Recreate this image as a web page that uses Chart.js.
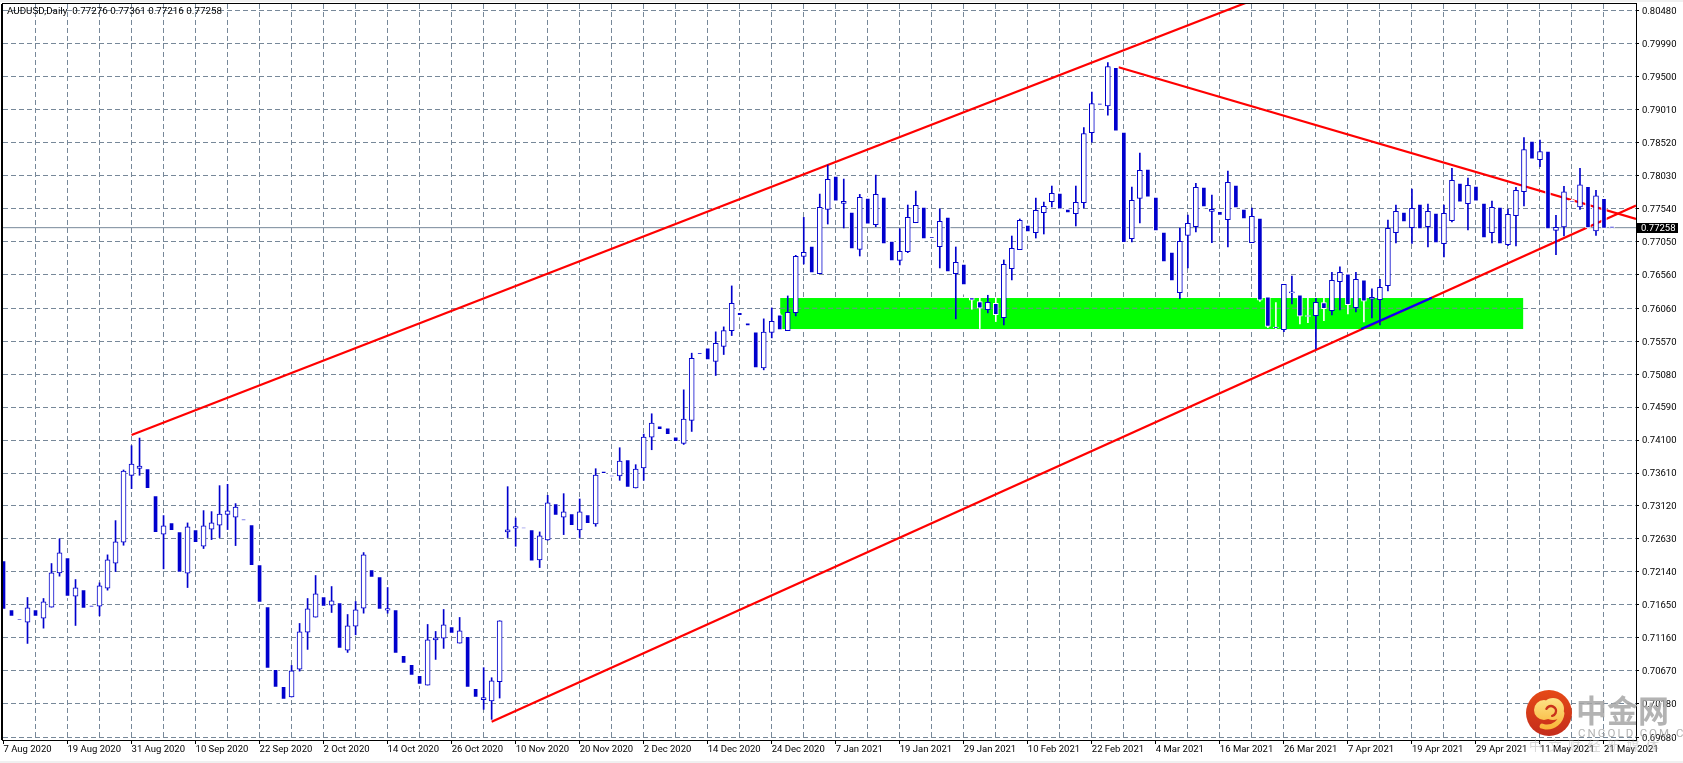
<!DOCTYPE html>
<html>
<head>
<meta charset="utf-8">
<title>AUDUSD Daily</title>
<script src="https://cdn.jsdelivr.net/npm/chart.js@4/dist/chart.umd.min.js"></script>
<style>
html, body { margin: 0; padding: 0; background: #fff; }
canvas { display: block; }
</style>
</head>
<body>
<canvas id="chart" width="1683" height="763"></canvas>
<script>
// daily candles, one entry per bar
var opens = [
.72308,.71581,.71447,.71393,.71581,.71452,.71615,.72125,.72353,.71779,
.71878,.71640,.71630,.71898,.72269,.72581,.73576,.73680,.73675,.73274,
.72699,.72873,.72739,.72120,.72769,.72521,.72774,.72833,.72996,.72952,
.72917,.72843,.72249,.71625,.70690,.70437,.70279,.70695,.71244,.71467,
.71774,.71645,.71685,.70977,.71333,.71600,.72175,.72071,.71571,.71581,
.70898,.70764,.70601,.70457,.71130,.71155,.71328,.71081,.71180,.70408,
.70239,.70220,.70507,.72734,.72788,.72798,.72769,.72318,.72615,.73155,
.72952,.73006,.72764,.72991,.72853,.73640,.73571,.73566,.73808,.73387,
.73684,.74144,.74313,.74283,.74149,.74050,.74392,.75400,.75471,.75268,
.75491,.75728,.76000,.75842,.75709,.75174,.75699,.75961,.75728,.75996,
.76832,.76986,.76575,.77530,.78025,.77619,.77491,.76936,.77698,.77302,
.77713,.77060,.76773,.76902,.77332,.77565,.77119,.76976,.77416,.76575,
.76718,.76218,.76159,.76040,.76134,.75921,.76649,.76931,.77298,.77184,
.77481,.77644,.77773,.77535,.77466,.77629,.78669,.79109,.79070,.79644,
.78679,.77095,.77694,.78129,.77713,.77194,.76897,.76293,.77144,.77273,
.77862,.77500,.77500,.77377,.77892,.77535,.77035,.77401,.76228,.75780,
.75743,.76288,.76258,.75950,.75951,.76144,.76025,.76456,.76570,.76070,
.76481,.76194,.76189,.76397,.77184,.77491,.77258,.77609,.77273,.77476,
.77020,.77362,.77921,.77614,.77877,.77624,.77184,.77565,.77005,.77436,
.77793,.78545,.78268,.78396,.77218,.77268,.77664,.77565,.77872,.77208,
.77693,.77276];
var highs = [
.72330,.71600,.71465,.71759,.71600,.71744,.72264,.72630,.72370,.72026,
.72170,.71660,.71977,.72393,.72902,.73655,.74016,.74130,.73690,.73290,
.72977,.72890,.72755,.72868,.72785,.73051,.73036,.73422,.73442,.73155,
.72935,.73130,.72270,.71640,.70705,.70455,.70749,.71373,.71744,.72086,
.71790,.71922,.71700,.71506,.71700,.72427,.72190,.72085,.71907,.71600,
.70915,.70780,.70620,.71358,.71254,.71581,.71345,.71462,.71200,.70425,
.70715,.70566,.71413,.73407,.72942,.72815,.72785,.72734,.73278,.73170,
.73303,.73020,.73224,.73115,.73674,.73655,.73620,.73986,.73825,.73734,
.74189,.74491,.74330,.74300,.74165,.74847,.75392,.75420,.75490,.75709,
.75783,.76392,.76020,.75860,.75725,.75902,.76065,.75980,.76243,.76847,
.77411,.77005,.77758,.78189,.78040,.77981,.77510,.77753,.77715,.78040,
.77730,.77075,.77243,.77595,.77802,.77585,.77135,.77535,.77430,.76971,
.76735,.76240,.76213,.76253,.76213,.76778,.77134,.77387,.77315,.77698,
.77639,.77877,.77790,.77555,.77877,.78748,.79273,.79125,.79713,.79660,
.78695,.77862,.78367,.78145,.77730,.77210,.76915,.77253,.77446,.77916,
.77880,.77743,.77520,.78099,.77910,.77555,.77550,.77415,.76245,.76144,
.76416,.76540,.76275,.76218,.76209,.76213,.76595,.76674,.76585,.76595,
.76495,.76347,.76491,.77372,.77595,.77505,.77832,.77625,.77609,.77490,
.77595,.78139,.77935,.77995,.77890,.77640,.77654,.77580,.77535,.77857,
.78599,.78560,.78560,.78410,.77441,.77872,.77680,.78139,.77890,.77812,
.77710,.77361];
var lows = [
.71560,.71460,.71400,.71076,.71460,.71303,.71615,.72076,.71755,.71343,
.71580,.71600,.71487,.71868,.72145,.72536,.73378,.73576,.73360,.72705,
.72185,.72740,.72115,.71907,.72480,.72487,.72620,.72650,.72769,.72531,
.72890,.72215,.71665,.70690,.70170,.70225,.70279,.70665,.70987,.71467,
.71605,.71536,.70985,.70942,.71204,.71526,.72040,.71565,.71526,.70910,
.70760,.70585,.70450,.70457,.70838,.71002,.71205,.71081,.70405,.70255,
.70096,.69947,.70264,.72650,.72521,.72770,.72280,.72204,.72610,.72965,
.72694,.72810,.72650,.72840,.72818,.73585,.73545,.73501,.73380,.73387,
.73501,.73956,.74090,.74160,.74060,.74035,.74228,.75365,.75275,.75060,
.75372,.75654,.75930,.75780,.75155,.75144,.75619,.75550,.75728,.75946,
.76718,.76565,.76575,.77312,.77635,.77253,.76925,.76837,.77295,.77273,
.77000,.76745,.76704,.76887,.77332,.77040,.77095,.76659,.76585,.75902,
.76270,.76045,.75758,.75991,.75862,.75812,.76481,.76931,.77175,.77104,
.77164,.77565,.77515,.77460,.77283,.77550,.78530,.79065,.78931,.78675,
.77020,.77045,.77327,.77695,.77190,.76730,.76450,.76204,.76659,.77194,
.77545,.77035,.77420,.76971,.77530,.77370,.77035,.76160,.75770,.75750,
.75713,.76124,.75827,.75847,.75456,.75877,.75961,.76035,.75976,.76006,
.75857,.75916,.75812,.76317,.77030,.77325,.77025,.77220,.76971,.77015,
.76822,.77342,.77620,.77223,.77635,.77085,.77030,.77000,.76991,.76986,
.77580,.78260,.78164,.77220,.76857,.77134,.77620,.77530,.77235,.77144,
.77230,.77216];
var closes = [
.71581,.71477,.71417,.71605,.71477,.71695,.72125,.72422,.71774,.71902,
.71596,.71620,.71932,.72318,.72586,.73640,.73744,.73714,.73378,.72724,
.72823,.72754,.72130,.72808,.72576,.72823,.72868,.73001,.73046,.73105,
.72907,.72234,.71685,.70705,.70422,.70244,.70670,.71249,.71590,.71813,
.71625,.71709,.71002,.71338,.71576,.72393,.72056,.71581,.71596,.70927,
.70779,.70601,.70467,.71130,.71160,.71353,.71224,.71264,.70422,.70274,
.70269,.70521,.71413,.72764,.72813,.72788,.72298,.72675,.73165,.72981,
.73031,.72828,.73031,.72858,.73580,.73600,.73561,.73788,.73397,.73670,
.74144,.74352,.74253,.74179,.74075,.74412,.75317,.75380,.75293,.75540,
.75728,.76134,.75950,.75798,.75174,.75704,.75867,.75738,.76001,.76832,
.76892,.76585,.77560,.77976,.77654,.77649,.76941,.77708,.77312,.77753,
.77015,.76763,.76906,.77411,.77590,.77090,.77109,.77352,.76600,.76743,
.76407,.76179,.76060,.76149,.75966,.76713,.76951,.77367,.77194,.77515,
.77575,.77768,.77535,.77476,.77634,.78659,.79104,.79080,.79654,.78693,
.77035,.77664,.78109,.77713,.77208,.76748,.76466,.77055,.77322,.77857,
.77565,.77530,.77440,.77931,.77550,.77387,.77426,.76179,.75788,.75770,
.76416,.76303,.75941,.75940,.76149,.76055,.76476,.76595,.76114,.76491,
.76164,.76223,.76372,.77248,.77500,.77342,.77545,.77238,.77500,.77030,
.77471,.77961,.77639,.77887,.77654,.77104,.77560,.77015,.77456,.77812,
.78421,.78278,.78391,.77238,.77263,.77792,.77639,.77896,.77253,.77733,
.77248,.77258];

// bottom axis, one label every 8 bars
var dateLabels = ["7 Aug 2020","19 Aug 2020","31 Aug 2020","10 Sep 2020","22 Sep 2020","2 Oct 2020",
    "14 Oct 2020","26 Oct 2020","10 Nov 2020","20 Nov 2020","2 Dec 2020","14 Dec 2020","24 Dec 2020",
    "7 Jan 2021","19 Jan 2021","29 Jan 2021","10 Feb 2021","22 Feb 2021","4 Mar 2021","16 Mar 2021",
    "26 Mar 2021","7 Apr 2021","19 Apr 2021","29 Apr 2021","11 May 2021","21 May 2021"];
var priceTicks = [.8048,.7999,.795,.7901,.7852,.7803,.7754,.7705,.7656,.7606,.7557,.7508,.7459,.741,
    .7361,.7312,.7263,.7214,.7165,.7116,.7067,.7018,.6968];
var priceMin = .69640, priceMax = .80584;
var lastPrice = .77258;

// drawn objects: [bar, price] end points
var upperChannel = [[16, .74175], [156, .80636]];
var lowerChannel = [[61, .69913], [204, .77588]];
var downTrend = [[139.35, .79643], [204, .77387]];
var blueSegment = [[169.65, .75751], [178.5, .76217]];
var zoneBars = [97.06, 189.9];
var zonePrices = [.75751, .76212];
var zoneGridPrice = .7606;

var BLUE = "#0000cd";
var GRID = "#778899";
var FONT = "Roboto";

var bulls = [], bears = [], bullWicks = [], bearWicks = [];
opens.forEach(function (o, i) {
    var isBull = closes[i] >= o;
    (isBull ? bulls : bears).push({ x: i, y: [o, closes[i]] });
    (isBull ? bullWicks : bearWicks).push({ x: i, y: [lows[i], highs[i]] });
});

function toPoints(line) {
    return line.map(function (p) { return { x: p[0], y: p[1] }; });
}

function trendLine(line, color, order) {
    return { type: "line", data: toPoints(line), borderColor: color, borderWidth: 2.2, pointRadius: 0, order: order };
}

function candleBars(data, fill, edge, thickness, order) {
    return {
        type: "bar", data: data, backgroundColor: fill, borderColor: edge,
        borderWidth: edge ? 1 : 0, borderSkipped: false, maxBarThickness: thickness,
        grouped: false, barPercentage: 1, categoryPercentage: 1, order: order
    };
}

// no fit padding from the outer labels, the plot area stays where the layout puts it
function noScalePadding(scale) {
    scale.paddingTop = 0;
    scale.paddingBottom = 0;
    scale.paddingLeft = 0;
    scale.paddingRight = 0;
}

// page strips stay under everything, the green zone covers the grid
var backdrop = {
    id: "backdrop",
    beforeDraw: function (chart) {
        var ctx = chart.ctx;
        ctx.save();
        ctx.fillStyle = "#f0f0f0";
        ctx.fillRect(0, 0, chart.width, 2);
        ctx.fillRect(0, 761, chart.width, 2);
        ctx.restore();
    },
    beforeDatasetsDraw: function (chart) {
        var ctx = chart.ctx, x = chart.scales.x, y = chart.scales.y;
        ctx.save();
        ctx.fillStyle = "#00ff00";
        ctx.fillRect(x.getPixelForValue(zoneBars[0]), y.getPixelForValue(zonePrices[1]),
            x.getPixelForValue(zoneBars[1]) - x.getPixelForValue(zoneBars[0]),
            y.getPixelForValue(zonePrices[0]) - y.getPixelForValue(zonePrices[1]));
        ctx.restore();
    }
};

// frame, header text, price tag and watermark
var overlay = {
    id: "overlay",
    afterDraw: function (chart) {
        var ctx = chart.ctx, area = chart.chartArea, y = chart.scales.y;
        ctx.save();
        ctx.strokeStyle = "#000";
        ctx.lineWidth = 1;
        ctx.strokeRect(area.left - 0.5, area.top - 0.5, area.right - area.left + 1, area.bottom - area.top + 1);
        ctx.beginPath();
        ctx.moveTo(area.left - 1.5, area.top);
        ctx.lineTo(area.left - 1.5, area.bottom);
        ctx.stroke();

        ctx.font = "9.8px " + FONT;
        ctx.fillStyle = "#000";
        ctx.textBaseline = "middle";
        ctx.textAlign = "left";
        ctx.fillText("AUDUSD,Daily  0.77276 0.77361 0.77216 0.77258", 7, 12);

        var tagY = y.getPixelForValue(lastPrice);
        ctx.fillStyle = "#000";
        ctx.fillRect(1637, Math.round(tagY) - 5, 41, 10);
        ctx.fillStyle = "#fff";
        ctx.font = "9.5px " + FONT;
        ctx.fillText(lastPrice.toFixed(5), 1641, tagY + 0.5);

        // logo
        var cx = 1549, cy = 713;
        var g = ctx.createLinearGradient(cx, cy - 23, cx, cy + 23);
        g.addColorStop(0, "#e64a16");
        g.addColorStop(1, "#c42c1c");
        ctx.fillStyle = g;
        ctx.beginPath();
        ctx.arc(cx, cy, 23, 0, Math.PI * 2);
        ctx.fill();
        var g2 = ctx.createLinearGradient(cx, cy - 16, cx, cy + 18);
        g2.addColorStop(0, "#fde58a");
        g2.addColorStop(1, "#f9b233");
        ctx.fillStyle = g2;
        ctx.beginPath();
        ctx.arc(cx - 5, cy - 3, 10, 0, Math.PI * 2);
        ctx.arc(cx + 4, cy - 4, 11, 0, Math.PI * 2);
        ctx.fill();
        ctx.strokeStyle = g2;
        ctx.lineWidth = 5;
        ctx.lineCap = "round";
        ctx.beginPath();
        ctx.arc(cx - 2, cy - 1, 15, 0.1, 1.9);
        ctx.stroke();
        ctx.strokeStyle = "#c9321b";
        ctx.lineWidth = 2.5;
        ctx.beginPath();
        ctx.arc(cx + 2, cy - 2, 5, 3.6, 7.6);
        ctx.stroke();

        ctx.globalAlpha = 0.85;
        ctx.fillStyle = "#a6a6a6";
        ctx.textAlign = "left";
        ctx.font = "bold 31px 'Noto Sans CJK SC'";
        ctx.fillText("中金网", 1576, 710);
        ctx.font = "11.5px " + FONT;
        ctx.letterSpacing = "2px";
        ctx.fillText("CNGOLD.COM.CN", 1578, 734);
        ctx.globalAlpha = 0.45;
        ctx.font = "13px 'Noto Sans CJK SC'";
        ctx.letterSpacing = "6.5px";
        ctx.fillText("中文财经新媒体", 1529, 745);
        ctx.restore();
    }
};

new Chart("chart", {
    data: {
        datasets: [
            candleBars(bears, BLUE, "#fff", 5, 1),
            candleBars(bulls, "#fff", BLUE, 5, 2),
            candleBars(bearWicks, "#fff", null, 1, 3),
            candleBars(bullWicks, BLUE, null, 1, 4),
            trendLine(blueSegment, "#0000ff", 5),
            trendLine(upperChannel, "#ff0000", 6),
            trendLine(lowerChannel, "#ff0000", 6),
            trendLine(downTrend, "#ff0000", 6),
            { type: "line", data: [{ x: -1, y: lastPrice }, { x: 204, y: lastPrice }], borderColor: GRID, borderWidth: 1, pointRadius: 0, order: 7 },
            { type: "line", data: [{ x: zoneBars[0], y: zoneGridPrice }, { x: zoneBars[1], y: zoneGridPrice }], borderColor: GRID, borderWidth: 1, borderDash: [5, 3], pointRadius: 0, order: 8 }
        ]
    },
    options: {
        responsive: false,
        animation: false,
        events: [],
        layout: { padding: { left: 3, top: 4, right: 0, bottom: 0 } },
        plugins: { legend: { display: false }, tooltip: { enabled: false } },
        scales: {
            x: {
                type: "linear",
                offset: false,
                min: -0.0625,
                max: 204,
                afterBuildTicks: function (scale) {
                    var ticks = [];
                    for (var i = 0; i <= 200; i += 4) ticks.push({ value: i });
                    scale.ticks = ticks;
                },
                afterFit: function (scale) { scale.height = 23; noScalePadding(scale); },
                border: { color: "#000", dash: [5, 3] },
                grid: {
                    offset: false,
                    color: function (c) { return c.tick && c.tick.value === 0 ? "transparent" : GRID; },
                    tickColor: function (c) { return c.tick && c.tick.value % 8 === 0 ? "#000" : "transparent"; },
                    tickLength: 4
                },
                ticks: {
                    autoSkip: false,
                    maxRotation: 0,
                    align: "start",
                    padding: 0,
                    color: "#000",
                    font: { family: FONT, size: 9.5 },
                    callback: function (v) { return v % 8 === 0 ? dateLabels[v / 8] : ""; }
                }
            },
            y: {
                position: "right",
                min: priceMin,
                max: priceMax,
                afterBuildTicks: function (scale) {
                    scale.ticks = priceTicks.map(function (v) { return { value: v }; });
                },
                afterFit: function (scale) { scale.width = 47; noScalePadding(scale); },
                border: { color: "#000", dash: [5, 3] },
                grid: { color: GRID, tickColor: "#000", tickLength: 3 },
                ticks: {
                    autoSkip: false,
                    padding: 3,
                    labelOffset: 1,
                    color: "#000",
                    font: { family: FONT, size: 9.5 },
                    callback: function (v) { return v.toFixed(5); }
                }
            }
        }
    },
    plugins: [backdrop, overlay]
});
</script>
</body>
</html>
